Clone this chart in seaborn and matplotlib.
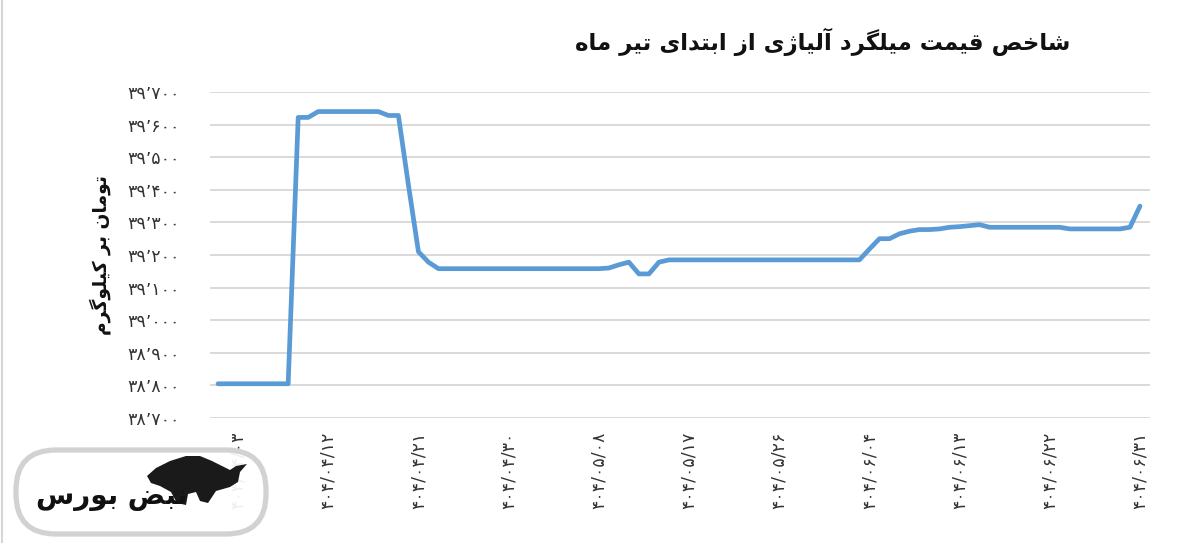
import matplotlib
matplotlib.use("Agg")
import matplotlib.pyplot as plt
from matplotlib.patches import FancyBboxPatch, Polygon
from matplotlib.lines import Line2D
import seaborn as sns

# ---------------- data ----------------
MONTHS = ["04", "05", "06"]
DAYS_IN_MONTH = 31
DATES = [f"{m}/{d:02d}" for m in MONTHS for d in range(1, DAYS_IN_MONTH + 1)]

VALUES = [
    38805, 38805, 38805, 38805, 38805, 38805, 38805, 38805,          # 04/01-04/08
    39622, 39622,                                                    # 04/09-04/10
    39640, 39640, 39640, 39640, 39640, 39640, 39640,                 # 04/11-04/17
    39628, 39628,                                                    # 04/18-04/19
    39415, 39210, 39178, 39158,                                      # 04/20-04/23
    39158, 39158, 39158, 39158, 39158, 39158, 39158, 39158,          # 04/24-04/31
    39158, 39158, 39158, 39158, 39158, 39158, 39158, 39158,          # 05/01-05/08
    39160, 39170, 39178, 39142, 39142, 39178,                        # 05/09-05/14
    39185, 39185, 39185, 39185, 39185, 39185, 39185, 39185, 39185, 39185,
    39185, 39185, 39185, 39185, 39185, 39185, 39185, 39185, 39185, 39185,
    39218, 39250, 39250, 39265, 39273, 39278, 39278, 39280, 39285, 39287,
    39290, 39293, 39285,
    39285, 39285, 39285, 39285, 39285, 39285, 39285,
    39280, 39280, 39280, 39280, 39280, 39280,
    39285, 39350,
]

TICK_DATES = ["04/03", "04/12", "04/21", "04/30", "05/08", "05/17",
              "05/26", "06/04", "06/13", "06/22", "06/31"]
TICK_PREFIX = "404/"

YTICKS = [38700, 38800, 38900, 39000, 39100, 39200, 39300, 39400, 39500, 39600, 39700]
YTICK_LABELS = ["۳۸٬۷۰۰", "۳۸٬۸۰۰", "۳۸٬۹۰۰", "۳۹٬۰۰۰", "۳۹٬۱۰۰", "۳۹٬۲۰۰",
                "۳۹٬۳۰۰", "۳۹٬۴۰۰", "۳۹٬۵۰۰", "۳۹٬۶۰۰", "۳۹٬۷۰۰"]

TITLE = "شاخص قیمت میلگرد آلیاژی از ابتدای تیر ماه"
YLABEL = "تومان بر کیلوگرم"
LOGO_TEXT = "نبض بورس"

# ---------------- helpers ----------------
FA_DIGITS = str.maketrans("0123456789", "۰۱۲۳۴۵۶۷۸۹")

FORMS = {
    "ا": ("\uFE8D", "\uFE8E", None, None),
    "آ": ("\uFE81", "\uFE82", None, None),
    "ب": ("\uFE8F", "\uFE90", "\uFE91", "\uFE92"),
    "ت": ("\uFE95", "\uFE96", "\uFE97", "\uFE98"),
    "خ": ("\uFEA5", "\uFEA6", "\uFEA7", "\uFEA8"),
    "د": ("\uFEA9", "\uFEAA", None, None),
    "ر": ("\uFEAD", "\uFEAE", None, None),
    "ز": ("\uFEAF", "\uFEB0", None, None),
    "ژ": ("\uFB8A", "\uFB8B", None, None),
    "س": ("\uFEB1", "\uFEB2", "\uFEB3", "\uFEB4"),
    "ش": ("\uFEB5", "\uFEB6", "\uFEB7", "\uFEB8"),
    "ص": ("\uFEB9", "\uFEBA", "\uFEBB", "\uFEBC"),
    "ض": ("\uFEBD", "\uFEBE", "\uFEBF", "\uFEC0"),
    "ق": ("\uFED5", "\uFED6", "\uFED7", "\uFED8"),
    "ک": ("\uFB8E", "\uFB8F", "\uFB90", "\uFB91"),
    "گ": ("\uFB92", "\uFB93", "\uFB94", "\uFB95"),
    "ل": ("\uFEDD", "\uFEDE", "\uFEDF", "\uFEE0"),
    "م": ("\uFEE1", "\uFEE2", "\uFEE3", "\uFEE4"),
    "ن": ("\uFEE5", "\uFEE6", "\uFEE7", "\uFEE8"),
    "ه": ("\uFEE9", "\uFEEA", "\uFEEB", "\uFEEC"),
    "و": ("\uFEED", "\uFEEE", None, None),
    "ی": ("\uFBFC", "\uFBFD", "\uFBFE", "\uFBFF"),
}
DUAL = {k for k, v in FORMS.items() if v[2] is not None}


def shape(s):
    out = []
    for i, ch in enumerate(s):
        if ch not in FORMS:
            out.append(ch)
            continue
        prev = s[i - 1] if i > 0 else ""
        nxt = s[i + 1] if i + 1 < len(s) else ""
        jp = prev in DUAL
        jn = ch in DUAL and nxt in FORMS
        f = FORMS[ch]
        if jp and jn:
            g = f[3]
        elif jp:
            g = f[1]
        elif jn:
            g = f[2]
        else:
            g = f[0]
        out.append(g)
    return "".join(reversed(out))


# ---------------- plot ----------------
sns.set_style("white")
plt.rcParams["font.family"] = ["DejaVu Sans"]

W, H = 1200, 543
fig = plt.figure(figsize=(W / 100, H / 100), dpi=100)
ax = fig.add_axes([210 / W, 1 - 418 / H, 940 / W, 326 / H])

x = list(range(len(DATES)))
sns.lineplot(x=x, y=VALUES, ax=ax, color="#5b9bd5", linewidth=3.4,
             solid_joinstyle="round", solid_capstyle="round")

ax.set_xlim(-0.8, 93.0)
ax.set_ylim(YTICKS[0], YTICKS[-1])
ax.set_yticks(YTICKS)
ax.set_yticklabels(YTICK_LABELS)
tick_pos = [DATES.index(d) for d in TICK_DATES]
ax.set_xticks(tick_pos)
ax.set_xticklabels([(TICK_PREFIX + d).translate(FA_DIGITS) for d in TICK_DATES])

ax.yaxis.grid(True, color="#d9d9d9", linewidth=1.4)
ax.xaxis.grid(False)
ax.set_axisbelow(True)
for sp in ax.spines.values():
    sp.set_visible(False)
ax.tick_params(axis="y", length=0, pad=22, labelsize=12.5, labelcolor="#333333")
ax.tick_params(axis="x", length=0, pad=10, labelsize=12.5, labelcolor="#333333",
               labelrotation=90)
ax.set_xlabel("")
ax.set_ylabel("")

fig.text(1070 / W, 1 - 42 / H, shape(TITLE), ha="right", va="center",
         fontsize=16.5, fontweight="bold", color="#111111")
fig.text(100 / W, 1 - 255 / H, shape(YLABEL), ha="center", va="center",
         rotation=90, fontsize=13.5, fontweight="bold", color="#111111")

# thin frame line at left edge
fig.add_artist(Line2D([2 / W, 2 / W], [0, 1], transform=fig.transFigure,
                      color="#d6d6d6", linewidth=1.5))

# watermark logo (local pixel coordinates inside its own axes)
LX0, LY0, LW, LH = 12, 446, 258, 92
lax = fig.add_axes([LX0 / W, 1 - (LY0 + LH) / H, LW / W, LH / H], zorder=10)
lax.set_xlim(0, LW)
lax.set_ylim(0, LH)
lax.axis("off")
lax.patch.set_alpha(0)
box = FancyBboxPatch((4, 4), LW - 8, LH - 8,
                     boxstyle="round,pad=0,rounding_size=40",
                     facecolor="white", alpha=0.92, edgecolor="#cfcfcf",
                     linewidth=3.8)
lax.add_patch(box)


def lp(px, py):
    return (px - LX0, LY0 + LH - py)


bull_px = [(147, 476), (156, 468), (170, 461), (186, 456), (200, 456), (212, 461),
           (222, 466), (230, 470), (236, 466), (247, 464), (240, 472), (238, 482),
           (230, 487), (216, 491), (208, 503), (200, 501), (196, 492), (188, 494),
           (186, 505), (177, 503), (171, 492), (160, 486), (151, 483)]
lax.add_patch(Polygon([lp(a, b) for a, b in bull_px], closed=True,
                      facecolor="#1a1a1a", edgecolor="none"))
lax.text(*lp(112, 497), shape(LOGO_TEXT), ha="center", va="center",
         fontsize=20, fontweight="bold", color="#111111")

fig.savefig("out.png", dpi=100)
